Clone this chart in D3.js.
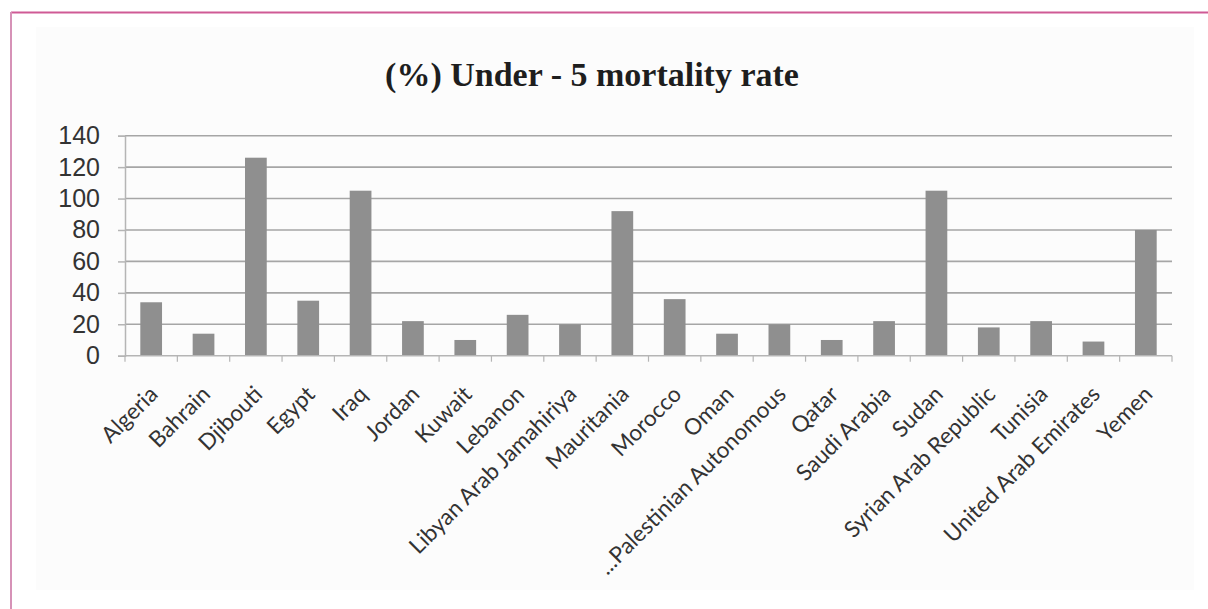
<!DOCTYPE html>
<html>
<head>
<meta charset="utf-8">
<script src="https://cdn.jsdelivr.net/npm/d3@7/dist/d3.min.js"></script>
<style>
  html, body { margin: 0; padding: 0; background: #ffffff; }
  svg { display: block; }
</style>
</head>
<body>
<svg id="chart" width="1208" height="609"></svg>
<script>
const titleText = "(%) Under - 5 mortality rate";
const categories = ["Algeria", "Bahrain", "Djibouti", "Egypt", "Iraq", "Jordan", "Kuwait", "Lebanon",
  "Libyan Arab Jamahiriya", "Mauritania", "Morocco", "Oman", "...Palestinian Autonomous", "Qatar",
  "Saudi Arabia", "Sudan", "Syrian Arab Republic", "Tunisia", "United Arab Emirates", "Yemen"];
const values = [34, 14, 126, 35, 105, 22, 10, 26, 20, 92, 36, 14, 20, 10, 22, 105, 18, 22, 9, 80];
const yTicks = [0, 20, 40, 60, 80, 100, 120, 140];

(function () {
const svg = d3.select("#chart");

// frame
svg.append("rect").attr("x", 36).attr("y", 27).attr("width", 1158).attr("height", 563).attr("fill", "#fcfcfc");
svg.append("line").attr("x1", 11).attr("x2", 1208).attr("y1", 12.5).attr("y2", 12.5)
  .attr("stroke", "#cf5a95").attr("stroke-width", 2);
svg.append("line").attr("x1", 11).attr("x2", 11).attr("y1", 12).attr("y2", 609)
  .attr("stroke", "#d692b7").attr("stroke-width", 2);

const pLeft = 125, pRight = 1172, pTop = 135.7, pBottom = 355.7;

const x = d3.scaleBand().domain(categories).range([pLeft, pRight]).paddingInner(0.585).paddingOuter(0.2925);
const y = d3.scaleLinear().domain([0, 140]).range([pBottom, pTop]);

// gridlines
svg.append("g").selectAll("line").data(yTicks.filter(d => d > 0)).join("line")
  .attr("x1", pLeft).attr("x2", pRight)
  .attr("y1", d => y(d)).attr("y2", d => y(d))
  .attr("stroke", "#a6a6a6").attr("stroke-width", 1.6);

// y axis
const yAxis = d3.axisLeft(y).tickValues(yTicks).tickSize(7).tickPadding(18);
const gy = svg.append("g").attr("transform", `translate(${pLeft},0)`).call(yAxis);
gy.select(".domain").attr("stroke", "#b5b5b5").attr("stroke-width", 1.5);
gy.selectAll(".tick line").attr("stroke", "#b5b5b5").attr("stroke-width", 1.5);
gy.selectAll(".tick text").attr("font-family", "'Liberation Sans', Arial, sans-serif")
  .attr("font-size", 25).attr("fill", "#333333");

// bars
svg.append("g").selectAll("rect").data(values).join("rect")
  .attr("x", (d, i) => x(categories[i]))
  .attr("y", d => y(d))
  .attr("width", x.bandwidth())
  .attr("height", d => y(0) - y(d))
  .attr("fill", "#8f8f8f");

// x axis line and ticks
svg.append("line").attr("x1", pLeft).attr("x2", pRight).attr("y1", y(0)).attr("y2", y(0))
  .attr("stroke", "#b5b5b5").attr("stroke-width", 1.5);
const step = x.step();
const boundaries = categories.map(c => x(c) - (step - x.bandwidth()) / 2);
boundaries.push(pRight);
svg.append("g").selectAll("line").data(boundaries).join("line")
  .attr("x1", d => d).attr("x2", d => d)
  .attr("y1", y(0)).attr("y2", y(0) + 6)
  .attr("stroke", "#b5b5b5").attr("stroke-width", 1.2);

// category labels
svg.append("g").selectAll("text").data(categories).join("text")
  .attr("transform", d => `translate(${x(d) + x.bandwidth() / 2 + 8},${y(0) + 40}) rotate(-45)`)
  .attr("text-anchor", "end")
  .attr("font-family", "Lato, 'Open Sans', sans-serif")
  .attr("font-size", 22.5)
  .attr("fill", "#333333")
  .text(d => d);

// title
svg.append("text")
  .attr("x", 592).attr("y", 86)
  .attr("text-anchor", "middle")
  .attr("font-family", "'Liberation Serif', 'Times New Roman', serif")
  .attr("font-weight", "bold")
  .attr("font-size", 34)
  .attr("fill", "#1e1e1e")
  .text(titleText);
})();
</script>
</body>
</html>
